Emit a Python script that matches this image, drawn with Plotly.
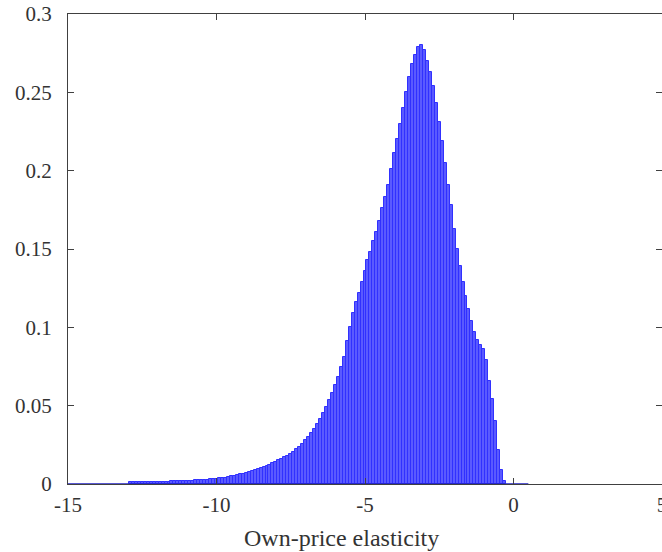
import numpy as np
import plotly.graph_objects as go

# Histogram bins (centres, width 0.1) of own-price elasticity
bin_width = 0.1
bin_centers = np.round(np.arange(-12.9, -0.25, 0.1), 2)
density = [
    0.0010, 0.0010, 0.0010, 0.0011, 0.0011, 0.0011, 0.0012, 0.0012, 0.0012, 0.0013,  # -12.9 .. -12.0
    0.0013, 0.0014, 0.0015, 0.0015, 0.0016, 0.0017, 0.0018, 0.0019, 0.0020, 0.0020,  # -11.9 .. -11.0
    0.0021, 0.0022, 0.0023, 0.0024, 0.0025, 0.0027, 0.0028, 0.0030, 0.0032, 0.0034,  # -10.9 .. -10.0
    0.0036, 0.0038, 0.0041, 0.0045, 0.0050, 0.0054, 0.0058, 0.0062, 0.0067, 0.0072,  # -9.9 .. -9.0
    0.0077, 0.0082, 0.0088, 0.0095, 0.0101, 0.0108, 0.0116, 0.0124, 0.0133, 0.0142,  # -8.9 .. -8.0
    0.0151, 0.0160, 0.0170, 0.0181, 0.0193, 0.0207, 0.0221, 0.0238, 0.0257, 0.0278,  # -7.9 .. -7.0
    0.0300, 0.0325, 0.0352, 0.0383, 0.0418, 0.0455, 0.0494, 0.0537, 0.0583, 0.0632,  # -6.9 .. -6.0
    0.0685, 0.0745, 0.0810, 0.0910, 0.1000, 0.1090, 0.1160, 0.1220, 0.1290, 0.1360,  # -5.9 .. -5.0
    0.1430, 0.1480, 0.1550, 0.1610, 0.1680, 0.1760, 0.1830, 0.1910, 0.2010, 0.2110,  # -4.9 .. -4.0
    0.2200, 0.2300, 0.2400, 0.2500, 0.2600, 0.2680, 0.2740, 0.2790, 0.2800, 0.2770,  # -3.9 .. -3.0
    0.2700, 0.2630, 0.2540, 0.2430, 0.2310, 0.2190, 0.2050, 0.1910, 0.1780, 0.1630,  # -2.9 .. -2.0
    0.1500, 0.1390, 0.1290, 0.1200, 0.1120, 0.1040, 0.0970, 0.0920, 0.0890, 0.0860,  # -1.9 .. -1.0
    0.0790, 0.0660, 0.0540, 0.0400, 0.0220, 0.0090, 0.0020,                          # -0.9 .. -0.3
]
# empty bins that still show as a zero baseline
empty_bin_range = [-15.0, 0.5]
empty_bin_counts = [0, 0]

x_tickvals = [-15, -10, -5, 0, 5]
x_ticktext = ["-15", "-10", "-5", "0", "5"]
y_tickvals = [0, 0.05, 0.1, 0.15, 0.2, 0.25, 0.3]
y_ticktext = ["0", "0.05", "0.1", "0.15", "0.2", "0.25", "0.3"]
x_label = "Own-price elasticity"

FONT = "Liberation Serif"
TXT = "#333333"
AX = "#404040"

fig = go.Figure()
fig.add_trace(go.Scatter(
    x=empty_bin_range, y=empty_bin_counts, mode="lines",
    line=dict(color="#2020c0", width=1.5), hoverinfo="skip", showlegend=False,
))
fig.add_trace(go.Bar(
    x=bin_centers, y=density, width=bin_width,
    marker=dict(color="#5a5aff", line=dict(color="#3030ff", width=1)),
    showlegend=False,
))

fig.update_layout(
    width=662, height=552,
    margin=dict(l=68, r=0, t=14, b=68),
    paper_bgcolor="white", plot_bgcolor="white",
    bargap=0,
    font=dict(family=FONT, size=21, color=TXT),
)
fig.add_annotation(
    text=x_label, xref="paper", yref="paper", x=0.4604, y=-0.1149,
    xanchor="center", yanchor="middle", showarrow=False,
    font=dict(family=FONT, size=24, color=TXT),
)
fig.update_xaxes(
    range=[-15, 5], tickvals=x_tickvals, ticktext=x_ticktext,
    showgrid=False, zeroline=False, automargin=False,
    showline=True, linecolor=AX, linewidth=1, mirror="ticks",
    ticks="inside", ticklen=6, tickcolor=AX, tickwidth=1,
    ticklabelstandoff=2, ticklabeloverflow="allow",
    tickfont=dict(family=FONT, size=21, color=TXT),
)
fig.update_yaxes(
    range=[0, 0.3], tickvals=y_tickvals, ticktext=y_ticktext,
    showgrid=False, zeroline=False, automargin=False,
    showline=True, linecolor=AX, linewidth=1, mirror="ticks",
    ticks="inside", ticklen=6, tickcolor=AX, tickwidth=1,
    ticklabelstandoff=11, ticklabeloverflow="allow",
    tickfont=dict(family=FONT, size=21, color=TXT),
)

# remove the default 8px body margin so the figure fills the window exactly
fig.write_html(
    "out.html",
    config={"displayModeBar": False},
    post_script="document.body.style.margin='0';",
)
